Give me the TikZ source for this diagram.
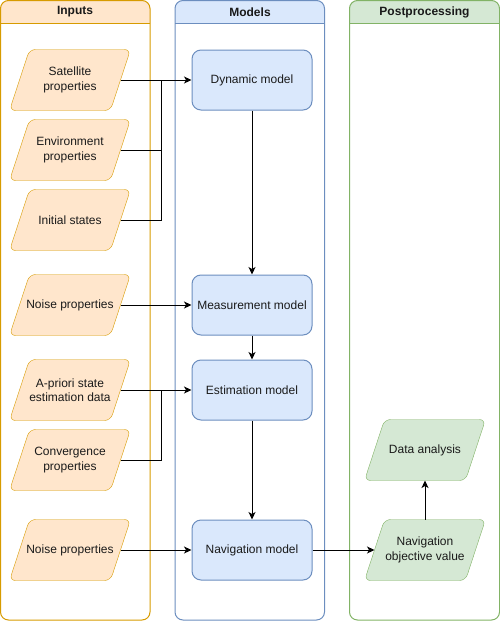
\documentclass[tikz,border=0pt]{standalone}
\usepackage{fontspec}
\setmainfont{Liberation Sans}
\usetikzlibrary{arrows.meta,calc,backgrounds}

\definecolor{inFill}{HTML}{FFE6CC}
\definecolor{inLine}{HTML}{D79B00}
\definecolor{mdFill}{HTML}{DAE8FC}
\definecolor{mdLine}{HTML}{6C8EBF}
\definecolor{ppFill}{HTML}{D5E8D4}
\definecolor{ppLine}{HTML}{82B366}
\definecolor{txt}{HTML}{1A1A1A}

\tikzset{
  % text box of a data shape: its outline is the slanted shape drawn behind it
  para/.style={rectangle, minimum width=100pt, minimum height=60pt,
    inner sep=0pt, align=center, text=txt},
  model/.style={rectangle, draw=mdLine, fill=mdFill, rounded corners=9pt,
    minimum width=120pt, minimum height=60pt, inner sep=0pt, align=center, text=txt},
  lanetitle/.style={font=\fontsize{12}{14.5}\selectfont\bfseries, text=txt},
  flow/.style={draw=black, -{Stealth[length=7.5pt,width=7pt,inset=2pt]}},
  link/.style={draw=black}
}

% swimlane: #1 left x, #2 right x, #3 fill, #4 line colour
\newcommand{\lanebox}[4]{%
  \begin{scope}
    \clip (#1-1,-1) rectangle (#2+1,23);
    \fill[#3, rounded corners=8pt] (#1,0.5) rectangle (#2,60);
  \end{scope}
  \draw[#4, rounded corners=8pt] (#1,0.5) rectangle (#2,620);
  \draw[#4] (#1,23) -- (#2,23);
}

% slanted data shape behind node #1, fill #2, line #3
\newcommand{\databox}[3]{%
  \filldraw[fill=#2, draw=#3, rounded corners=6pt]
    ($(#1.south west)+(-10,0)$) -- ($(#1.north west)+(10,0)$) --
    ($(#1.north east)+(10,0)$) -- ($(#1.south east)+(-10,0)$) -- cycle;
}

\begin{document}
\begin{tikzpicture}[x=1pt, y=-1pt, line width=1pt, font=\fontsize{12}{14.5}\selectfont]
  \useasboundingbox (0,0) rectangle (500,621);

  % lanes
  \lanebox{0.5}{150}{inFill}{inLine}
  \lanebox{175}{324.5}{mdFill}{mdLine}
  \lanebox{349.5}{499.5}{ppFill}{ppLine}
  \node[lanetitle] (tin) at (75,12) {Inputs};
  \node[lanetitle] (tmd) at (250,12) {Models};
  \node[lanetitle] (tpp) at (424.5,12) {Postprocessing};

  % inputs
  \node[para] (sat)  at (70,80)  {Satellite\\properties};
  \node[para] (env)  at (70,150) {Environment\\properties};
  \node[para] (init) at (70,220) {Initial states};
  \node[para] (noi1) at (70,305) {Noise properties};
  \node[para] (apr)  at (70,390) {A-priori state\\estimation data};
  \node[para] (conv) at (70,460) {Convergence\\properties};
  \node[para] (noi2) at (70,550) {Noise properties};

  % models
  \node[model] (dyn)  at (252,80)  {Dynamic model};
  \node[model] (meas) at (252,305) {Measurement model};
  \node[model] (est)  at (252,390) {Estimation model};
  \node[model] (nav)  at (252,550) {Navigation model};

  % postprocessing
  \node[para] (obj)  at (425,550) {Navigation\\objective value};
  \node[para] (data) at (425,450) {Data analysis};

  % data shapes
  \begin{scope}[on background layer]
    \foreach \n in {sat,env,init,noi1,apr,conv,noi2} {\databox{\n}{inFill}{inLine}}
    \foreach \n in {obj,data} {\databox{\n}{ppFill}{ppLine}}
  \end{scope}

  % junction points
  \coordinate (j1) at (161,80);
  \coordinate (j2) at (161,390);

  % connectors
  \draw[flow] (sat.east) -- (dyn.west);
  \draw[link] (env.east) -| (j1);
  \draw[link] (init.east) -| (j1);
  \draw[flow] (noi1.east) -- (meas.west);
  \draw[flow] (apr.east) -- (est.west);
  \draw[link] (conv.east) -| (j2);
  \draw[flow] (noi2.east) -- (nav.west);

  \draw[flow] (dyn.south) -- (meas.north);
  \draw[flow] (meas.south) -- (est.north);
  \draw[flow] (est.south) -- (nav.north);
  \draw[flow] (nav.east) -- (obj.west);
  \draw[flow] (obj.north) -- (data.south);
\end{tikzpicture}
\end{document}
